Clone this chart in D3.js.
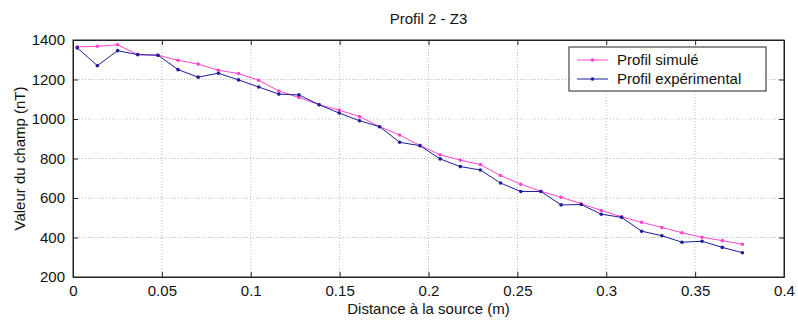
<!DOCTYPE html>
<html><head><meta charset="utf-8">
<script src="https://cdnjs.cloudflare.com/ajax/libs/d3/7.8.5/d3.min.js"></script>
<style>body{margin:0;background:#fff}svg{display:block}text{font-family:"Liberation Sans",Arial,sans-serif;fill:#111}</style>
</head><body><svg id="c" width="798" height="320"></svg>
<script>
const title = "Profil 2 - Z3";
const xLabel = "Distance à la source (m)";
const yLabel = "Valeur du champ (nT)";
const xTicks = [0, 0.05, 0.1, 0.15, 0.2, 0.25, 0.3, 0.35, 0.4];
const yTicks = [200, 400, 600, 800, 1000, 1200, 1400];
const distances = [0.0024,0.0137,0.0251,0.0364,0.0478,0.0591,0.0704,0.0818,0.0931,0.1045,0.1158,0.1271,0.1385,0.1498,0.1612,0.1725,0.1838,0.1952,0.2065,0.2179,0.2292,0.2405,0.2519,0.2632,0.2746,0.2859,0.2972,0.3086,0.3199,0.3313,0.3426,0.3539,0.3653,0.3766];
const simule = [1365,1368,1376,1326,1323,1297,1278,1247,1230,1196,1142,1109,1072,1045,1012,961,919,866,819,792,769,714,670,634,604,571,537,505,477,451,424,401,384,366];
const experimental = [1360,1270,1346,1326,1323,1250,1212,1232,1198,1162,1126,1122,1072,1030,991,961,882,865,798,759,742,676,633,633,565,567,518,502,432,409,376,381,350,323];
const seriesNames = ["Profil simulé", "Profil expérimental"];
const colors = ["#ff44cc", "#1c1c9c"];

const svg = d3.select("#c");
const L = 73, R = 784, T = 40, B = 277;
const x = d3.scaleLinear().domain([0, 0.4]).range([L, R]);
const y = d3.scaleLinear().domain([200, 1400]).range([B, T]);

// grid
const g = svg.append("g");
g.selectAll(".gx").data(xTicks.slice(1, -1)).enter().append("line")
  .attr("x1", d => x(d)).attr("x2", d => x(d)).attr("y1", T).attr("y2", B)
  .attr("stroke", "#bbb").attr("stroke-dasharray", "1,2");
g.selectAll(".gy").data(yTicks.slice(1, -1)).enter().append("line")
  .attr("y1", d => y(d)).attr("y2", d => y(d)).attr("x1", L).attr("x2", R)
  .attr("stroke", "#bbb").attr("stroke-dasharray", "1,2");

// axes (ticks inside, MATLAB style)
const fmt = d => String(+d.toFixed(2));
svg.append("g").attr("transform", `translate(0,${B})`)
  .call(d3.axisBottom(x).tickValues(xTicks).tickSizeInner(-5).tickSizeOuter(0).tickPadding(8).tickFormat(fmt));
svg.append("g").attr("transform", `translate(0,${T})`)
  .call(d3.axisTop(x).tickValues(xTicks).tickSizeInner(-5).tickSizeOuter(0).tickFormat(""));
svg.append("g").attr("transform", `translate(${L},0)`)
  .call(d3.axisLeft(y).tickValues(yTicks).tickSizeInner(-5).tickSizeOuter(0).tickPadding(8).tickFormat(fmt));
svg.append("g").attr("transform", `translate(${R},0)`)
  .call(d3.axisRight(y).tickValues(yTicks).tickSizeInner(-5).tickSizeOuter(0).tickFormat(""));
svg.selectAll(".domain").attr("stroke", "#222");
svg.selectAll(".tick line").attr("stroke", "#222");
svg.selectAll(".tick text").attr("font-size", 15).attr("font-family", "Liberation Sans, Arial, sans-serif").attr("fill", "#111");

// lines
const data = [simule, experimental];
const line = d3.line().x((d, i) => x(distances[i])).y(d => y(d));
data.forEach((s, k) => {
  svg.append("path").datum(s).attr("d", line).attr("fill", "none")
    .attr("stroke", colors[k]).attr("stroke-width", 1);
  svg.selectAll(null).data(s).enter().append("circle")
    .attr("cx", (d, i) => x(distances[i])).attr("cy", d => y(d)).attr("r", 1.8)
    .attr("fill", colors[k]);
});

// box
svg.append("rect").attr("x", L).attr("y", T).attr("width", R - L).attr("height", B - T)
  .attr("fill", "none").attr("stroke", "#222");

// texts
svg.append("text").attr("x", (L + R) / 2).attr("y", 24).attr("text-anchor", "middle")
  .attr("font-size", 15).text(title);
svg.append("text").attr("x", (L + R) / 2).attr("y", 314).attr("text-anchor", "middle")
  .attr("font-size", 15).text(xLabel);
svg.append("text").attr("transform", `translate(25,${(T + B) / 2}) rotate(-90)`)
  .attr("text-anchor", "middle").attr("font-size", 15).text(yLabel);

// legend
const lg = svg.append("g");
lg.append("rect").attr("x", 569).attr("y", 47).attr("width", 197).attr("height", 44)
  .attr("fill", "#fff").attr("stroke", "#222");
seriesNames.forEach((n, k) => {
  const yy = 60 + k * 19;
  lg.append("line").attr("x1", 577).attr("x2", 608).attr("y1", yy).attr("y2", yy)
    .attr("stroke", colors[k]);
  lg.append("circle").attr("cx", 592.5).attr("cy", yy).attr("r", 1.8).attr("fill", colors[k]);
  lg.append("text").attr("x", 617).attr("y", yy + 5).attr("font-size", 15).text(n);
});
</script></body></html>
